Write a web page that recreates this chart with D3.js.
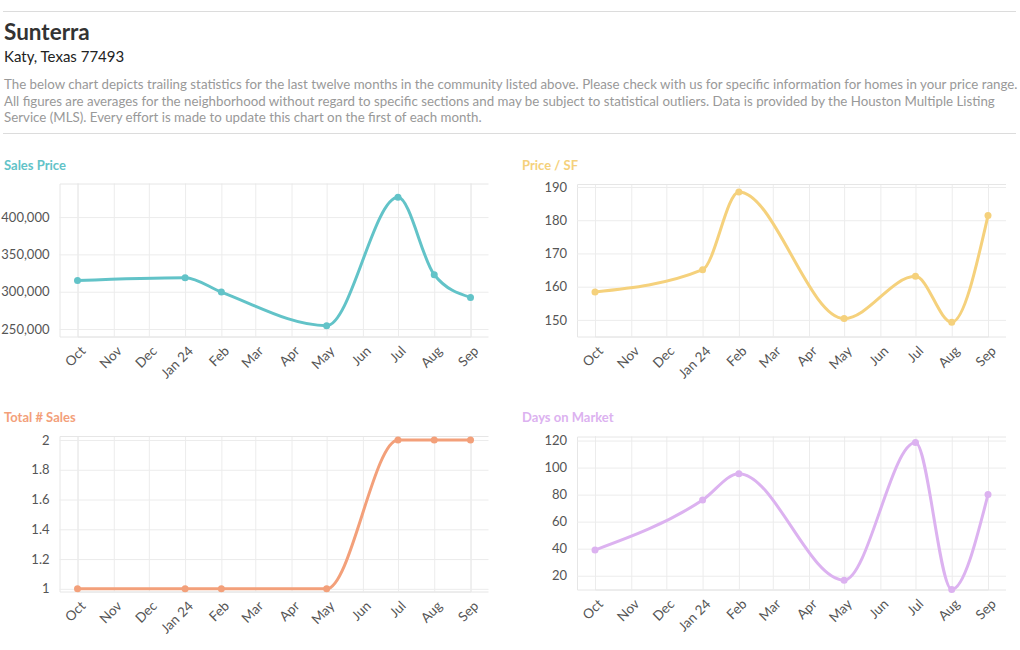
<!DOCTYPE html>
<html>
<head>
<meta charset="utf-8">
<script src="https://cdn.jsdelivr.net/npm/d3@7"></script>
<style>
  html, body { margin: 0; padding: 0; background: #fff; }
  svg text { font-family: "Source Sans Pro", "Lato", "Noto Sans", sans-serif; }
</style>
</head>
<body>
<svg id="chart" width="1020" height="650"></svg>
<script>
// ---- data ----
const communityName = "Sunterra";
const communityLocation = "Katy, Texas 77493";
const descriptionLines = [
  "The below chart depicts trailing statistics for the last twelve months in the community listed above. Please check with us for specific information for homes in your price range.",
  "All figures are averages for the neighborhood without regard to specific sections and may be subject to statistical outliers. Data is provided by the Houston Multiple Listing",
  "Service (MLS). Every effort is made to update this chart on the first of each month."
];
const axisMonths = ["2023-10","2023-11","2023-12","2024-01","2024-02","2024-03","2024-04","2024-05","2024-06","2024-07","2024-08","2024-09"];
const axisLabels = ["Oct","Nov","Dec","Jan 24","Feb","Mar","Apr","May","Jun","Jul","Aug","Sep"];
const dataMonths = ["2023-10","2024-01","2024-02","2024-05","2024-07","2024-08","2024-09"];
const salesPrice = [315000, 318800, 299500, 254500, 426500, 322800, 292400];
const pricePerSF = [158.4, 165.1, 188.5, 150.4, 163.1, 149.3, 181.4];
const totalSales = [1, 1, 1, 1, 2, 2, 2];
const daysOnMarket = [39, 76, 95.5, 16.7, 118.5, 9.8, 80];
const salesPriceTicks = [250000, 300000, 350000, 400000];
const pricePerSFTicks = [150, 160, 170, 180, 190];
const totalSalesTicks = [1, 1.2, 1.4, 1.6, 1.8, 2];
const daysOnMarketTicks = [20, 40, 60, 80, 100, 120];

// ---- drawing ----
const svg = d3.select("#chart");
const parse = d3.timeParse("%Y-%m");

// header
svg.append("line").attr("x1", 3).attr("x2", 1016).attr("y1", 11.5).attr("y2", 11.5)
  .attr("stroke", "#dcdcdc").attr("stroke-width", 1);
svg.append("text").attr("x", 4).attr("y", 40).text(communityName)
  .attr("font-size", 22.5).attr("font-weight", 700).attr("fill", "#333");
svg.append("text").attr("x", 4).attr("y", 62).text(communityLocation)
  .attr("font-size", 15).attr("fill", "#222");
descriptionLines.forEach((t, i) => {
  svg.append("text").attr("x", 4).attr("y", 89 + i * 16.5).text(t)
    .attr("font-size", 13.3).attr("fill", "#999");
});
svg.append("line").attr("x1", 3).attr("x2", 1016).attr("y1", 133.5).attr("y2", 133.5)
  .attr("stroke", "#dcdcdc").attr("stroke-width", 1);

const panels = [
  { title: "Sales Price", color: "#62c3c8", values: salesPrice, ticks: salesPriceTicks,
    fmt: d3.format(","), domain: [240000, 445000], titleX: 4,
    left: 59.5, right: 488.5, top: 183.5, bottom: 336.5, titleY: 170 },
  { title: "Price / SF", color: "#f5d17c", values: pricePerSF, ticks: pricePerSFTicks,
    fmt: d3.format("d"), domain: [145, 190.9], titleX: 522,
    left: 577, right: 1006, top: 184, bottom: 336.5, titleY: 170 },
  { title: "Total # Sales", color: "#f3a07a", values: totalSales, ticks: totalSalesTicks,
    fmt: d => String(d), domain: [0.982, 2.027], titleX: 4,
    left: 59.5, right: 488.5, top: 436, bottom: 591.5, titleY: 422 },
  { title: "Days on Market", color: "#dcb2f0", values: daysOnMarket, ticks: daysOnMarketTicks,
    fmt: d3.format("d"), domain: [9.8, 123], titleX: 522,
    left: 577, right: 1006, top: 436.5, bottom: 589.5, titleY: 422 }
];

panels.forEach(p => {
  const g = svg.append("g");
  const pad = 18;
  const x = d3.scaleTime()
    .domain([parse(axisMonths[0]), parse(axisMonths[axisMonths.length - 1])])
    .range([p.left + pad, p.right - pad]);
  const y = d3.scaleLinear().domain(p.domain).range([p.bottom, p.top]);

  g.append("text").attr("x", p.titleX).attr("y", p.titleY).text(p.title)
    .attr("font-size", 13).attr("font-weight", 700).attr("fill", p.color);

  // vertical grid
  const xAxis = d3.axisBottom(x).tickValues(axisMonths.map(parse))
    .tickSize(-(p.bottom - p.top)).tickFormat((d, i) => axisLabels[i]).tickPadding(0);
  const gx = g.append("g").attr("transform", `translate(0,${p.bottom})`).call(xAxis);
  gx.select(".domain").attr("stroke", "#e6e6e6");
  gx.selectAll(".tick line").attr("stroke", "#ececec");
  gx.selectAll(".tick text")
    .attr("font-size", 13.5).attr("fill", "#555")
    .attr("text-anchor", "end")
    .attr("transform", "translate(5,12) rotate(-45)")
    .attr("y", 0).attr("dy", "0.35em");

  // horizontal grid + y labels
  const yAxis = d3.axisLeft(y).tickValues(p.ticks).tickFormat(p.fmt)
    .tickSize(-(p.right - p.left)).tickPadding(10);
  const gy = g.append("g").attr("transform", `translate(${p.left},0)`).call(yAxis);
  gy.select(".domain").attr("stroke", "#e6e6e6");
  gy.selectAll(".tick line").attr("stroke", "#ececec");
  gy.selectAll(".tick text").attr("font-size", 13).attr("fill", "#555");

  const pts = dataMonths.map((m, i) => ({ d: parse(m), v: p.values[i] }));
  const line = d3.line().x(d => x(d.d)).y(d => y(d.v)).curve(d3.curveMonotoneX);
  g.append("path").datum(pts).attr("d", line)
    .attr("fill", "none").attr("stroke", p.color).attr("stroke-width", 3);
  g.selectAll("circle.pt").data(pts).enter().append("circle")
    .attr("class", "pt").attr("cx", d => x(d.d)).attr("cy", d => y(d.v))
    .attr("r", 3.5).attr("fill", p.color);
});
</script>
</body>
</html>
